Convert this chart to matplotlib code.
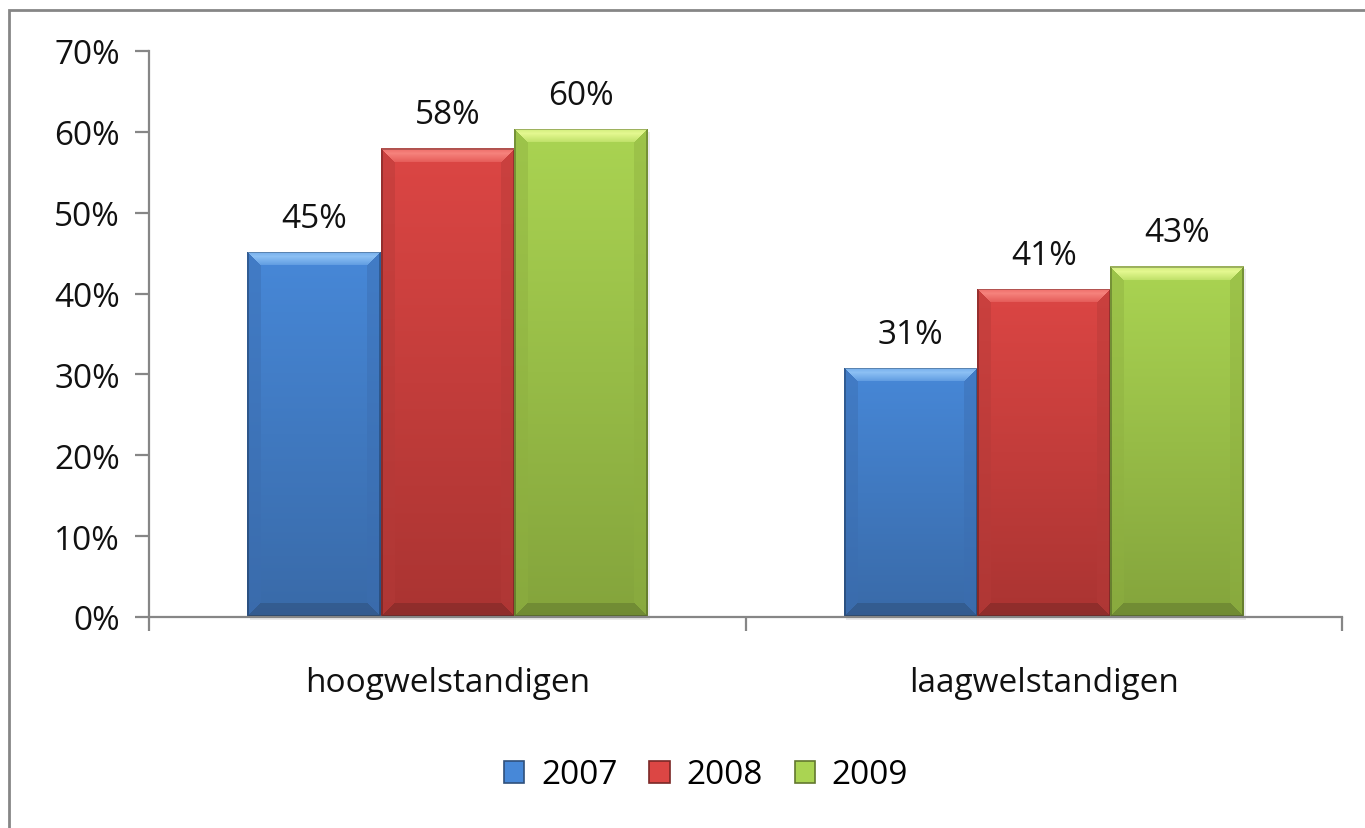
"""
Welstandigen per jaar - staafdiagram in Excel 2007 stijl
"""

import matplotlib

matplotlib.use("Agg")
import matplotlib.pyplot as plt
import numpy as np
from matplotlib.patches import Patch, Rectangle
from matplotlib.ticker import FuncFormatter, MultipleLocator

# data
categories = ["hoogwelstandigen", "laagwelstandigen"]
years = ["2007", "2008", "2009"]
values_2007 = [0.452, 0.308]
values_2008 = [0.580, 0.406]
values_2009 = [0.604, 0.434]
series = [values_2007, values_2008, values_2009]

# kleuren: (vlak boven, vlak onder, lichte rand boven, donkere rand onder, zijrand)
palette = [
    ("#4788d8", "#396aa8", "#8cc0f4", "#2f507c", "#3b6db0"),
    ("#dc4644", "#aa3432", "#f6827c", "#7a2826", "#b53a38"),
    ("#aad452", "#84a43c", "#e4f890", "#62782e", "#8eb040"),
]
axis_grey = "#868686"
font = "Open Sans"
fs = 24

plt.rcParams["font.family"] = [font, "DejaVu Sans"]

W, H = 1365, 829
fig = plt.figure(figsize=(W / 100, H / 100), dpi=100)
fig.patch.set_facecolor("white")

# buitenrand van de grafiek
fig.patches.append(
    Rectangle(
        (9 / W, -0.1), 2, 1 - 11 / H + 0.1,
        transform=fig.transFigure, fill=False, edgecolor=axis_grey, lw=2,
    )
)

x_left, x_right = 149, 1342
y_top, y_bottom = 52, 618
ax = fig.add_axes([
    x_left / W, 1 - y_bottom / H,
    (x_right - x_left) / W, (y_bottom - y_top) / H,
])

ymax = 0.70
ax.set_xlim(-0.5, 1.5)
ax.set_ylim(0, ymax)

bar_w = 0.2236
x = np.arange(len(categories))
px_per_x = (x_right - x_left) / 2.0
px_per_y = (y_bottom - y_top) / ymax


def bevel_image(w_px, h_px, cols, b=14):
    """RGB-beeld met schuine randen voor een staaf"""
    top, bot, hi, lo, side = [np.array(matplotlib.colors.to_rgb(c)) for c in cols]
    w_px = max(int(round(w_px)), 2)
    h_px = max(int(round(h_px)), 2)
    yy, xx = np.mgrid[0:h_px, 0:w_px]
    t = (yy / max(h_px - 1, 1))[..., None]
    img = top * (1 - t) + bot * t
    d_top = yy
    d_bot = h_px - 1 - yy
    d_l = xx
    d_r = w_px - 1 - xx
    dmin = np.minimum.reduce([d_top, d_bot, d_l, d_r])
    inb = dmin < b
    m_top = inb & (d_top == dmin)
    m_bot = inb & (d_bot == dmin) & ~m_top
    m_side = inb & ~m_top & ~m_bot
    img[m_side] = img[m_side] * 0.55 + side * 0.45
    img[m_bot] = img[m_bot] * 0.45 + lo * 0.55
    # lichte band boven, met verloop
    tt = np.abs(d_top / b - 0.35)[..., None]
    hi_mix = hi * (1 - tt) + img * tt
    img[m_top] = hi_mix[m_top]
    # dunne rand
    edge = dmin < 1.5
    img[edge] = img[edge] * 0.75
    return img


for i, (vals, cols) in enumerate(zip(series, palette)):
    pos = x + (i - 1) * bar_w
    bars = ax.bar(pos, vals, width=bar_w, color=cols[0], linewidth=0,
                  label=years[i], zorder=2)
    for bar, v in zip(bars, vals):
        bx = bar.get_x()
        img = bevel_image(bar_w * px_per_x, v * px_per_y, cols)
        im = ax.imshow(img, extent=(bx, bx + bar_w, 0, v), aspect="auto",
                       interpolation="nearest", zorder=3)
        im.set_clip_path(bar)
        # schaduw
        ax.add_patch(Rectangle((bx + 0.004, -0.004), bar_w, v,
                               facecolor="#000000", alpha=0.08, lw=0, zorder=1,
                               clip_on=False))
        ax.annotate(f"{v * 100:.0f}%", (bx + bar_w / 2, v), xytext=(0, 18),
                    textcoords="offset points", ha="center", va="baseline",
                    fontsize=fs, color="#111111", zorder=4)

ax.set_xlim(-0.5, 1.5)
ax.set_ylim(0, ymax)

# assen
for s in ["top", "right"]:
    ax.spines[s].set_visible(False)
for s in ["left", "bottom"]:
    ax.spines[s].set_color(axis_grey)
    ax.spines[s].set_linewidth(1.6)
    ax.spines[s].set_zorder(5)

ax.yaxis.set_major_locator(MultipleLocator(0.1))
ax.yaxis.set_major_formatter(FuncFormatter(lambda v, p: f"{v * 100:.0f}%"))
ax.tick_params(axis="y", direction="out", length=10, width=1.6,
               color=axis_grey, pad=11, labelsize=fs, labelcolor="#111111")

ax.set_xticks([-0.5, 0.5, 1.5])
ax.set_xticklabels([])
ax.set_xticks(x, minor=True)
ax.set_xticklabels(categories, minor=True)
ax.tick_params(axis="x", which="major", direction="out", length=10,
               width=1.6, color=axis_grey)
ax.tick_params(axis="x", which="minor", length=0, pad=35, labelsize=fs,
               labelcolor="#111111")

# legenda
handles = [
    Patch(facecolor=c[0], edgecolor=c[3], linewidth=1.2, label=y)
    for c, y in zip(palette, years)
]
fig.legend(handles=handles, loc="center", ncol=3, frameon=False,
           bbox_to_anchor=(706 / W, 1 - 776 / H), fontsize=fs,
           handlelength=0.62, handleheight=0.62, handletextpad=0.5,
           columnspacing=0.95)

fig.savefig("out.png", dpi=100)
plt.close(fig)
